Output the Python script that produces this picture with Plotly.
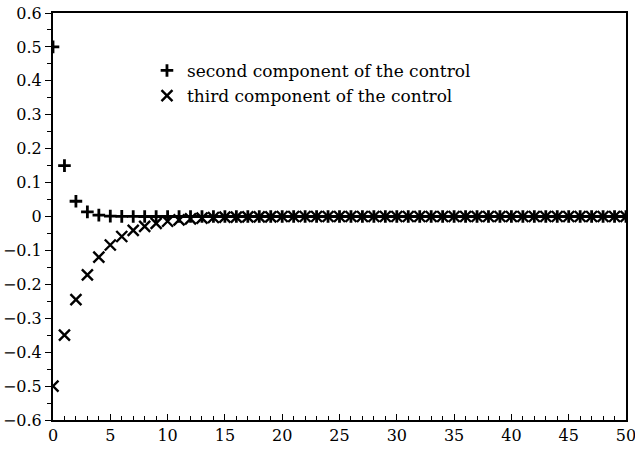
import plotly.graph_objects as go

steps = list(range(0, 51))
second_component = [0.5, 0.15, 0.045, 0.0135, 0.004, 0.0012, 0.0004, 0.0001] + [0.0] * 43
third_component = [-0.5, -0.35, -0.245, -0.172, -0.12, -0.084, -0.059, -0.041, -0.029,
                   -0.020, -0.014, -0.010, -0.007, -0.005, -0.003, -0.002, -0.002,
                   -0.001, -0.001, -0.001] + [0.0] * 31
names = ["second component of the control", "third component of the control"]
x_ticks = [0, 5, 10, 15, 20, 25, 30, 35, 40, 45, 50]
y_ticks = [0.6, 0.5, 0.4, 0.3, 0.2, 0.1, 0, -0.1, -0.2, -0.3, -0.4, -0.5, -0.6]
y_tick_text = ["0.6", "0.5", "0.4", "0.3", "0.2", "0.1", "0", "\u22120.1", "\u22120.2",
               "\u22120.3", "\u22120.4", "\u22120.5", "\u22120.6"]

FONT = "DejaVu Serif"

fig = go.Figure()
fig.add_trace(go.Scatter(
    x=steps, y=second_component, mode="markers", name=names[0],
    marker=dict(symbol="cross-thin", size=9, color="black",
                line=dict(color="black", width=2.8)),
    cliponaxis=True))
fig.add_trace(go.Scatter(
    x=steps, y=third_component, mode="markers", name=names[1],
    marker=dict(symbol="x-thin", size=11, color="black",
                line=dict(color="black", width=2.4)),
    cliponaxis=True))

fig.update_layout(
    width=635, height=453,
    margin=dict(l=53, r=9, t=13, b=33, autoexpand=False),
    paper_bgcolor="white", plot_bgcolor="white",
    font=dict(family=FONT, size=16, color="black"),
    showlegend=True,
    legend=dict(x=0.164, y=0.902, xanchor="left", yanchor="top",
                bgcolor="rgba(0,0,0,0)", font=dict(family=FONT, size=17, color="black"),
                itemwidth=30, tracegroupgap=0),
    xaxis=dict(range=[0, 50], tickvals=x_ticks, ticks="inside", ticklen=6,
               tickwidth=1.2, tickcolor="black", showgrid=False, zeroline=False,
               showline=True, linecolor="black", linewidth=2, mirror=True,
               automargin=False, ticklabeloverflow="allow",
               minor=dict(dtick=1, ticks="inside", ticklen=4, tickcolor="black",
                          tickwidth=1, showgrid=False),
               tickfont=dict(family=FONT, size=16, color="black")),
    yaxis=dict(range=[-0.6, 0.6], tickvals=y_ticks, ticktext=y_tick_text,
               ticks="outside", ticklen=6, tickwidth=1.2, tickcolor="black",
               showgrid=False, zeroline=False, showline=True, linecolor="black",
               linewidth=2, mirror=True, automargin=False, ticklabeloverflow="allow",
               minor=dict(dtick=0.05, ticks="outside", ticklen=4, tickcolor="black",
                          tickwidth=1, showgrid=False),
               tickfont=dict(family=FONT, size=16, color="black")),
)

fig.write_html("out.html", config={"displayModeBar": False},
               post_script="document.body.style.margin='0';document.body.style.overflow='hidden';")
